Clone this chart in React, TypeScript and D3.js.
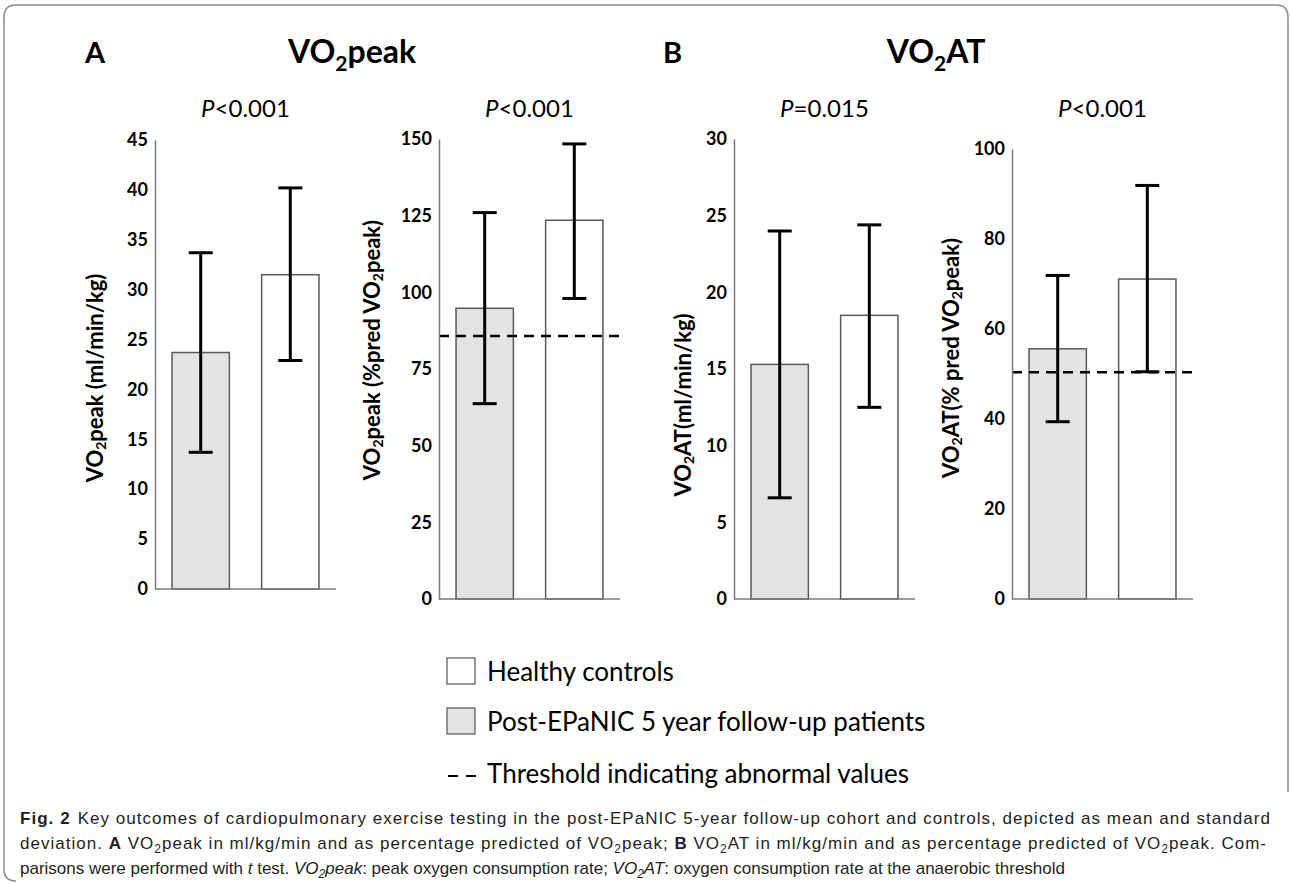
import { useEffect, useRef } from "react";
import * as d3 from "d3";

// two groups shown in every panel (patients left, controls right)
const groups = ["Post-EPaNIC 5 year follow-up patients", "Healthy controls"];

const yTicks = [
  [0, 5, 10, 15, 20, 25, 30, 35, 40, 45],
  [0, 25, 50, 75, 100, 125, 150],
  [0, 5, 10, 15, 20, 25, 30],
  [0, 20, 40, 60, 80, 100],
];

const patientMean = [23.7, 94.8, 15.3, 55.6];
const patientLow = [13.7, 63.7, 6.6, 39.4];
const patientHigh = [33.7, 126.0, 24.0, 71.9];

const controlMean = [31.5, 123.5, 18.5, 71.1];
const controlLow = [22.9, 98.0, 12.5, 50.5];
const controlHigh = [40.2, 148.4, 24.4, 91.9];

const thresholds: (number | null)[] = [null, 85.8, null, 50.4];
const pLabels = ["<0.001", "<0.001", "=0.015", "<0.001"];

type Seg = [string, string];

const yTitles: Seg[][] = [
  [["VO", ""], ["2", "sub"], ["peak (ml/min/kg)", ""]],
  [["VO", ""], ["2", "sub"], ["peak (%pred VO", ""], ["2", "sub"], ["peak)", ""]],
  [["VO", ""], ["2", "sub"], ["AT(ml/min/kg)", ""]],
  [["VO", ""], ["2", "sub"], ["AT(% pred VO", ""], ["2", "sub"], ["peak)", ""]],
];

const legendLabels = ["Healthy controls", "Post-EPaNIC 5 year follow-up patients", "Threshold indicating abnormal values"];

const captionLines: Seg[][] = [
  [
    ["Fig. 2", "b"],
    ["Key outcomes of cardiopulmonary exercise testing in the post-EPaNIC 5-year follow-up cohort and controls, depicted as mean and standard", "gap"],
  ],
  [
    ["deviation. ", ""], ["A", "b"], [" VO", ""], ["2", "sub"],
    ["peak in ml/kg/min and as percentage predicted of VO", ""], ["2", "sub"], ["peak; ", ""],
    ["B", "b"], [" VO", ""], ["2", "sub"], ["AT in ml/kg/min and as percentage predicted of VO", ""],
    ["2", "sub"], ["peak. Com-", ""],
  ],
  [
    ["parisons were performed with ", ""], ["t", "i"], [" test. ", ""], ["VO", "i"], ["2", "isub"],
    ["peak", "i"], [": peak oxygen consumption rate; ", ""], ["VO", "i"], ["2", "isub"], ["AT", "i"],
    [": oxygen consumption rate at the anaerobic threshold", ""],
  ],
];

const panels = [
  { x: 155, top: 140, bottom: 589, titleX: 94, titleY: 378 },
  { x: 439, top: 139, bottom: 599, titleX: 371, titleY: 350 },
  { x: 734, top: 139, bottom: 599, titleX: 682, titleY: 405 },
  { x: 1012, top: 149, bottom: 599, titleX: 950, titleY: 358 },
];
const panelWidth = 181;

const FONT = "Lato, 'Open Sans', sans-serif";
const CAPTION_FONT = "'Liberation Sans', sans-serif";

function addSegs(
  text: d3.Selection<SVGTextElement, unknown, null, undefined>,
  segs: Seg[],
  subSize: number,
  subShift: number
) {
  let shifted = 0;
  segs.forEach(([s, kind]) => {
    const t = text.append("tspan").text(s);
    const isSub = kind === "sub" || kind === "isub";
    if (isSub) {
      t.attr("font-size", subSize).attr("dy", subShift - shifted);
      shifted = subShift;
    } else if (shifted) {
      t.attr("dy", -shifted);
      shifted = 0;
    }
    if (kind === "b") t.attr("font-weight", "bold");
    if (kind === "i" || kind === "isub") t.attr("font-style", "italic");
    if (kind === "gap") t.attr("dx", 7);
  });
}

export default function App() {
  const svgRef = useRef<SVGSVGElement>(null);

  useEffect(() => {
    if (!svgRef.current) return;
    const svg = d3.select(svgRef.current);
    svg.selectAll("*").remove();

    // frame
    svg
      .append("path")
      .attr("d", "M16,881 Q4,881 4,869 L4,17 Q4,5 16,5 L1276,5 Q1288,5 1288,17 L1288,792")
      .attr("fill", "none")
      .attr("stroke", "#8c8c8c")
      .attr("stroke-width", 1.5);

    // panel headings
    const head = svg.append("g").attr("font-family", FONT).attr("font-weight", "bold").attr("fill", "#000");
    head.append("text").attr("x", 85).attr("y", 63).attr("font-size", 29).text("A");
    head.append("text").attr("x", 663).attr("y", 63).attr("font-size", 29).text("B");
    const h1 = head.append("text").attr("x", 352).attr("y", 63).attr("font-size", 32).attr("text-anchor", "middle");
    addSegs(h1, [["VO", ""], ["2", "sub"], ["peak", ""]], 21, 8);
    const h2 = head.append("text").attr("x", 936).attr("y", 63).attr("font-size", 32).attr("text-anchor", "middle");
    addSegs(h2, [["VO", ""], ["2", "sub"], ["AT", ""]], 21, 8);

    panels.forEach((L, i) => {
      const ticks = yTicks[i];
      const y = d3
        .scaleLinear()
        .domain([0, ticks[ticks.length - 1]])
        .range([L.bottom, L.top]);
      const x = d3
        .scaleBand()
        .domain(groups)
        .range([L.x, L.x + panelWidth])
        .paddingInner(0.36)
        .paddingOuter(0.19);

      const g = svg.append("g");
      const bars = [
        { k: groups[0], m: patientMean[i], lo: patientLow[i], hi: patientHigh[i], fill: "#e3e3e3" },
        { k: groups[1], m: controlMean[i], lo: controlLow[i], hi: controlHigh[i], fill: "#ffffff" },
      ];

      g.selectAll("rect")
        .data(bars)
        .join("rect")
        .attr("x", (d) => x(d.k)!)
        .attr("y", (d) => y(d.m))
        .attr("width", x.bandwidth())
        .attr("height", (d) => y(0) - y(d.m))
        .attr("fill", (d) => d.fill)
        .attr("stroke", "#5a5a5a")
        .attr("stroke-width", 1.5);

      // threshold
      const th = thresholds[i];
      if (th !== null) {
        g.append("line")
          .attr("x1", L.x)
          .attr("x2", L.x + panelWidth)
          .attr("y1", y(th))
          .attr("y2", y(th))
          .attr("stroke", "#000")
          .attr("stroke-width", 2.5)
          .attr("stroke-dasharray", "10,7");
      }

      // error bars
      const cx = (k: string) => x(k)! + x.bandwidth() / 2;
      g.selectAll(".eb")
        .data(bars)
        .join("line")
        .attr("class", "eb")
        .attr("x1", (d) => cx(d.k))
        .attr("x2", (d) => cx(d.k))
        .attr("y1", (d) => y(d.lo))
        .attr("y2", (d) => y(d.hi))
        .attr("stroke", "#000")
        .attr("stroke-width", 3);
      const caps = bars.flatMap((d) => [
        { k: d.k, v: d.lo },
        { k: d.k, v: d.hi },
      ]);
      g.selectAll(".cap")
        .data(caps)
        .join("line")
        .attr("class", "cap")
        .attr("x1", (d) => cx(d.k) - 12)
        .attr("x2", (d) => cx(d.k) + 12)
        .attr("y1", (d) => y(d.v))
        .attr("y2", (d) => y(d.v))
        .attr("stroke", "#000")
        .attr("stroke-width", 3);

      // baseline
      g.append("line")
        .attr("x1", L.x)
        .attr("x2", L.x + panelWidth)
        .attr("y1", y(0))
        .attr("y2", y(0))
        .attr("stroke", "#7a7a7a")
        .attr("stroke-width", 1.5);

      // y axis
      g.append("g")
        .attr("transform", `translate(${L.x},0)`)
        .call(d3.axisLeft(y).tickValues(ticks).tickSize(0).tickPadding(7).tickFormat(d3.format("d")))
        .call((axis) => {
          axis.select(".domain").attr("stroke", "#7a7a7a").attr("stroke-width", 1.5);
          axis
            .selectAll(".tick text")
            .attr("font-family", FONT)
            .attr("font-weight", "bold")
            .attr("font-size", 18)
            .attr("fill", "#000");
        });

      // axis title
      const t = g
        .append("text")
        .attr("transform", `translate(${L.titleX},${L.titleY}) rotate(-90)`)
        .attr("text-anchor", "middle")
        .attr("dominant-baseline", "central")
        .attr("font-family", FONT)
        .attr("font-weight", "bold")
        .attr("font-size", 22);
      addSegs(t, yTitles[i], 14, 6);

      // p value
      const p = g
        .append("text")
        .attr("x", L.x + panelWidth / 2)
        .attr("y", 117)
        .attr("text-anchor", "middle")
        .attr("font-family", FONT)
        .attr("font-size", 24);
      p.append("tspan").attr("font-style", "italic").text("P");
      p.append("tspan").text(pLabels[i]);
    });

    // legend
    const lg = svg.append("g").attr("font-family", FONT).attr("font-size", 26);
    const rowY = [671, 721, 773];
    const boxFill = ["#ffffff", "#e3e3e3"];
    boxFill.forEach((f, j) => {
      lg.append("rect")
        .attr("x", 447)
        .attr("y", rowY[j] - 13)
        .attr("width", 28)
        .attr("height", 26)
        .attr("fill", f)
        .attr("stroke", "#555")
        .attr("stroke-width", 1.2);
    });
    [448, 466].forEach((dx) => {
      lg.append("line")
        .attr("x1", dx)
        .attr("x2", dx + 10)
        .attr("y1", rowY[2] + 3)
        .attr("y2", rowY[2] + 3)
        .attr("stroke", "#000")
        .attr("stroke-width", 2);
    });
    legendLabels.forEach((s, j) => {
      lg.append("text")
        .attr("x", 487)
        .attr("y", rowY[j])
        .attr("dominant-baseline", "central")
        .attr("fill", "#000")
        .text(s);
    });

    // caption: first two lines justified, last line left as set
    const cap = svg.append("g").attr("font-family", CAPTION_FONT).attr("font-size", 17).attr("fill", "#231f20");
    const capY = [824, 849, 874];
    const capWidth = [1250, 1246];
    captionLines.forEach((segs, j) => {
      const t = cap.append("text").attr("x", 20).attr("y", capY[j]);
      if (j < 2) t.attr("textLength", capWidth[j]).attr("lengthAdjust", "spacing");
      addSegs(t, segs, 12, 4);
    });
  }, []);

  return (
    <svg
      ref={svgRef}
      width={1290}
      height={884}
      style={{ position: "absolute", left: 0, top: 0, background: "#fff" }}
    />
  );
}
